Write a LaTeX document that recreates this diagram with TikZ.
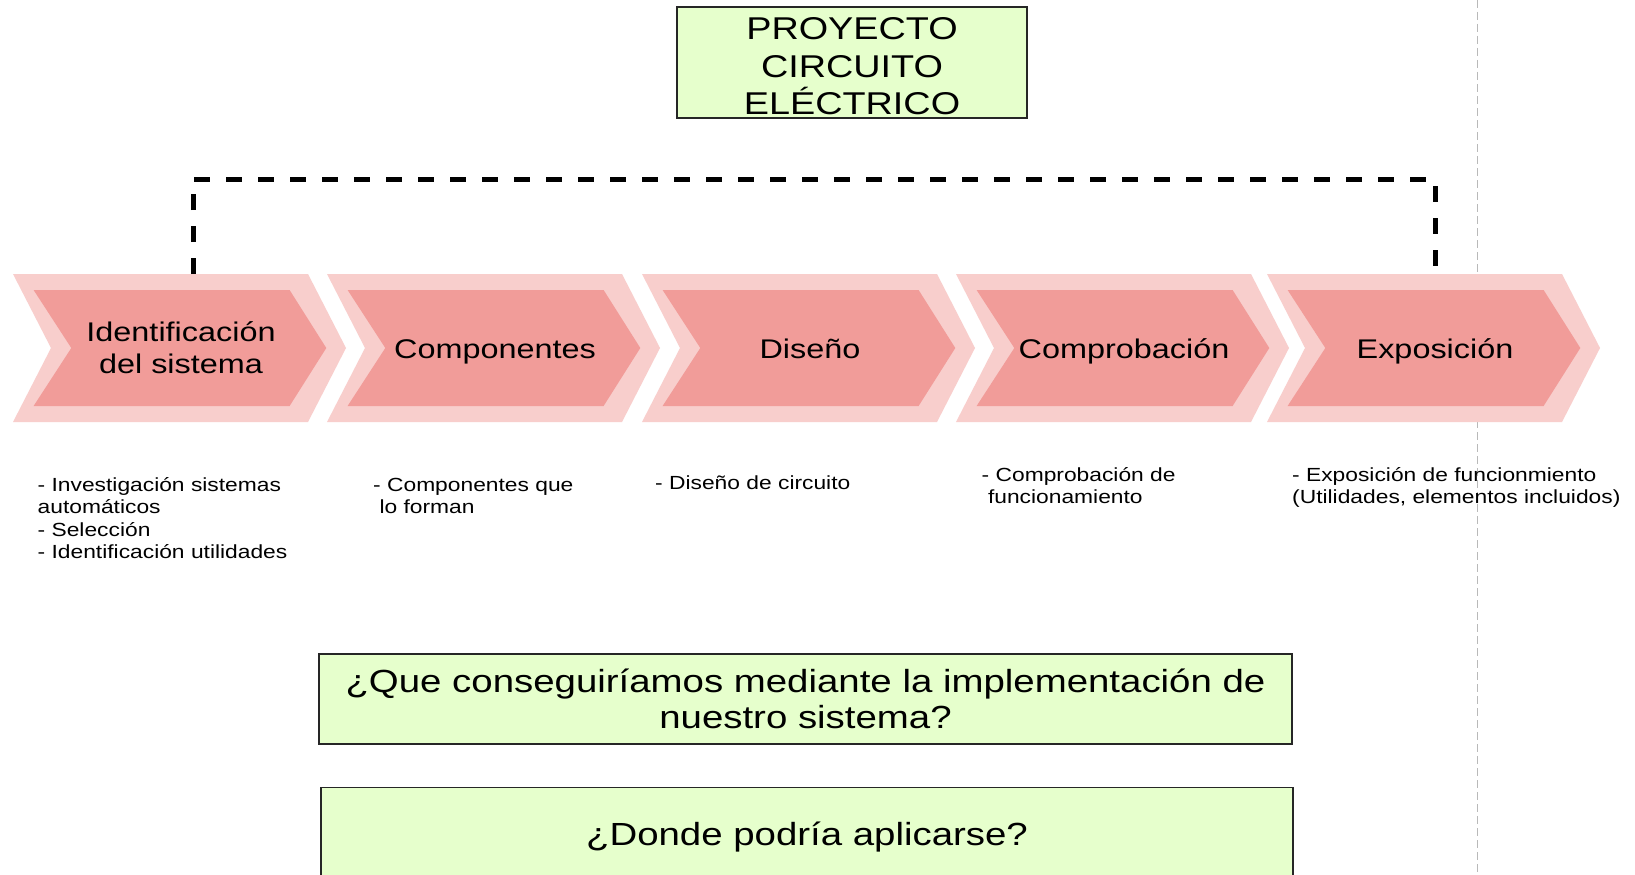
\documentclass[tikz,border=0pt]{standalone}
\usepackage{fontspec}
\setmainfont{Liberation Sans}[FakeStretch=1.2]
\definecolor{outerpink}{HTML}{F8CECC}
\definecolor{innerpink}{HTML}{F19C99}
\definecolor{boxgreen}{HTML}{E6FFCC}
\newcommand{\mychev}[4]{%
  \fill[outerpink] (#1,274) -- ({#1+295},274) -- ({#1+333},348) -- ({#1+295},422) -- (#1,422) -- ({#1+38},348) -- cycle;
  \fill[innerpink] ({#1+20.6},290) -- ({#1+276.6},290) -- ({#1+313.3},348) -- ({#1+276.6},406) -- ({#1+20.6},406) -- ({#1+58.3},348) -- cycle;
  \node[chevlabel] (#2) at ({#1+168},#4) {#3};
}
\begin{document}
\begin{tikzpicture}[x=1pt,y=-1pt,
  chevlabel/.style={font=\fontsize{27}{32}\selectfont, align=center, inner sep=0pt, anchor=base, text=black},
  desc/.style={font=\fontsize{19}{22.6}\selectfont, align=left, inner sep=0pt, anchor=base west, text=black},
  qbox/.style={draw=black!85, line width=1.5pt, fill=boxgreen, inner sep=0pt, align=center, text=black},
  dashlink/.style={draw=black, line width=5pt, dash pattern=on 16pt off 16pt},
  pagebreak/.style={draw=gray!55, line width=1pt, dash pattern=on 8pt off 4pt}]
\path[use as bounding box, fill=white] (0,0) rectangle (1635,875);
\clip (0,0) rectangle (1635,875);

% page break line (background)
\draw[pagebreak] (1477,0) -- (1477,875);

% title
\node[qbox, font=\fontsize{31.5}{37.5}\selectfont, minimum width=350pt, minimum height=111pt] (title) at (852,62.5) {\rule{0pt}{30pt}PROYECTO\\CIRCUITO\\ELÉCTRICO};

% chevrons
\mychev{13}{c1}{Identificación\\del sistema}{373}
\mychev{327}{c2}{Componentes}{358}
\mychev{642}{c3}{Diseño}{358}
\mychev{956}{c4}{Comprobación}{358}
\mychev{1267}{c5}{Exposición}{358}

% dashed link
\coordinate (c1top) at (193,274);
\coordinate (c5top) at (1435,274);
\coordinate (dl) at (193,179);
\coordinate (dr) at (1435,179);
\draw[dashlink] (c1top) -- (dl) -- (dr) -- (c5top);

% descriptions
\node[desc] (d1) at (37.5,558.8) {- Investigación sistemas\\automáticos\\- Selección\\- Identificación utilidades};
\node[desc] (d2) at (373,513.6) {- Componentes que\\\ lo forman};
\node[desc] (d3) at (655,489) {- Diseño de circuito};
\node[desc] (d4) at (981.5,503.6) {- Comprobación de\\\ funcionamiento};
\node[desc] (d5) at (1292,503.6) {- Exposición de funcionmiento\\(Utilidades, elementos incluidos)};

% questions
\node[qbox, font=\fontsize{32}{36.5}\selectfont, minimum width=973pt, minimum height=90pt] (q1) at (805.5,699) {¿Que conseguiríamos mediante la implementación de\\nuestro sistema?};
\node[qbox, font=\fontsize{32}{36.5}\selectfont, minimum width=972pt, minimum height=100pt] (q2) at (807,837.5) {¿Donde podría aplicarse?};
\end{tikzpicture}
\end{document}
